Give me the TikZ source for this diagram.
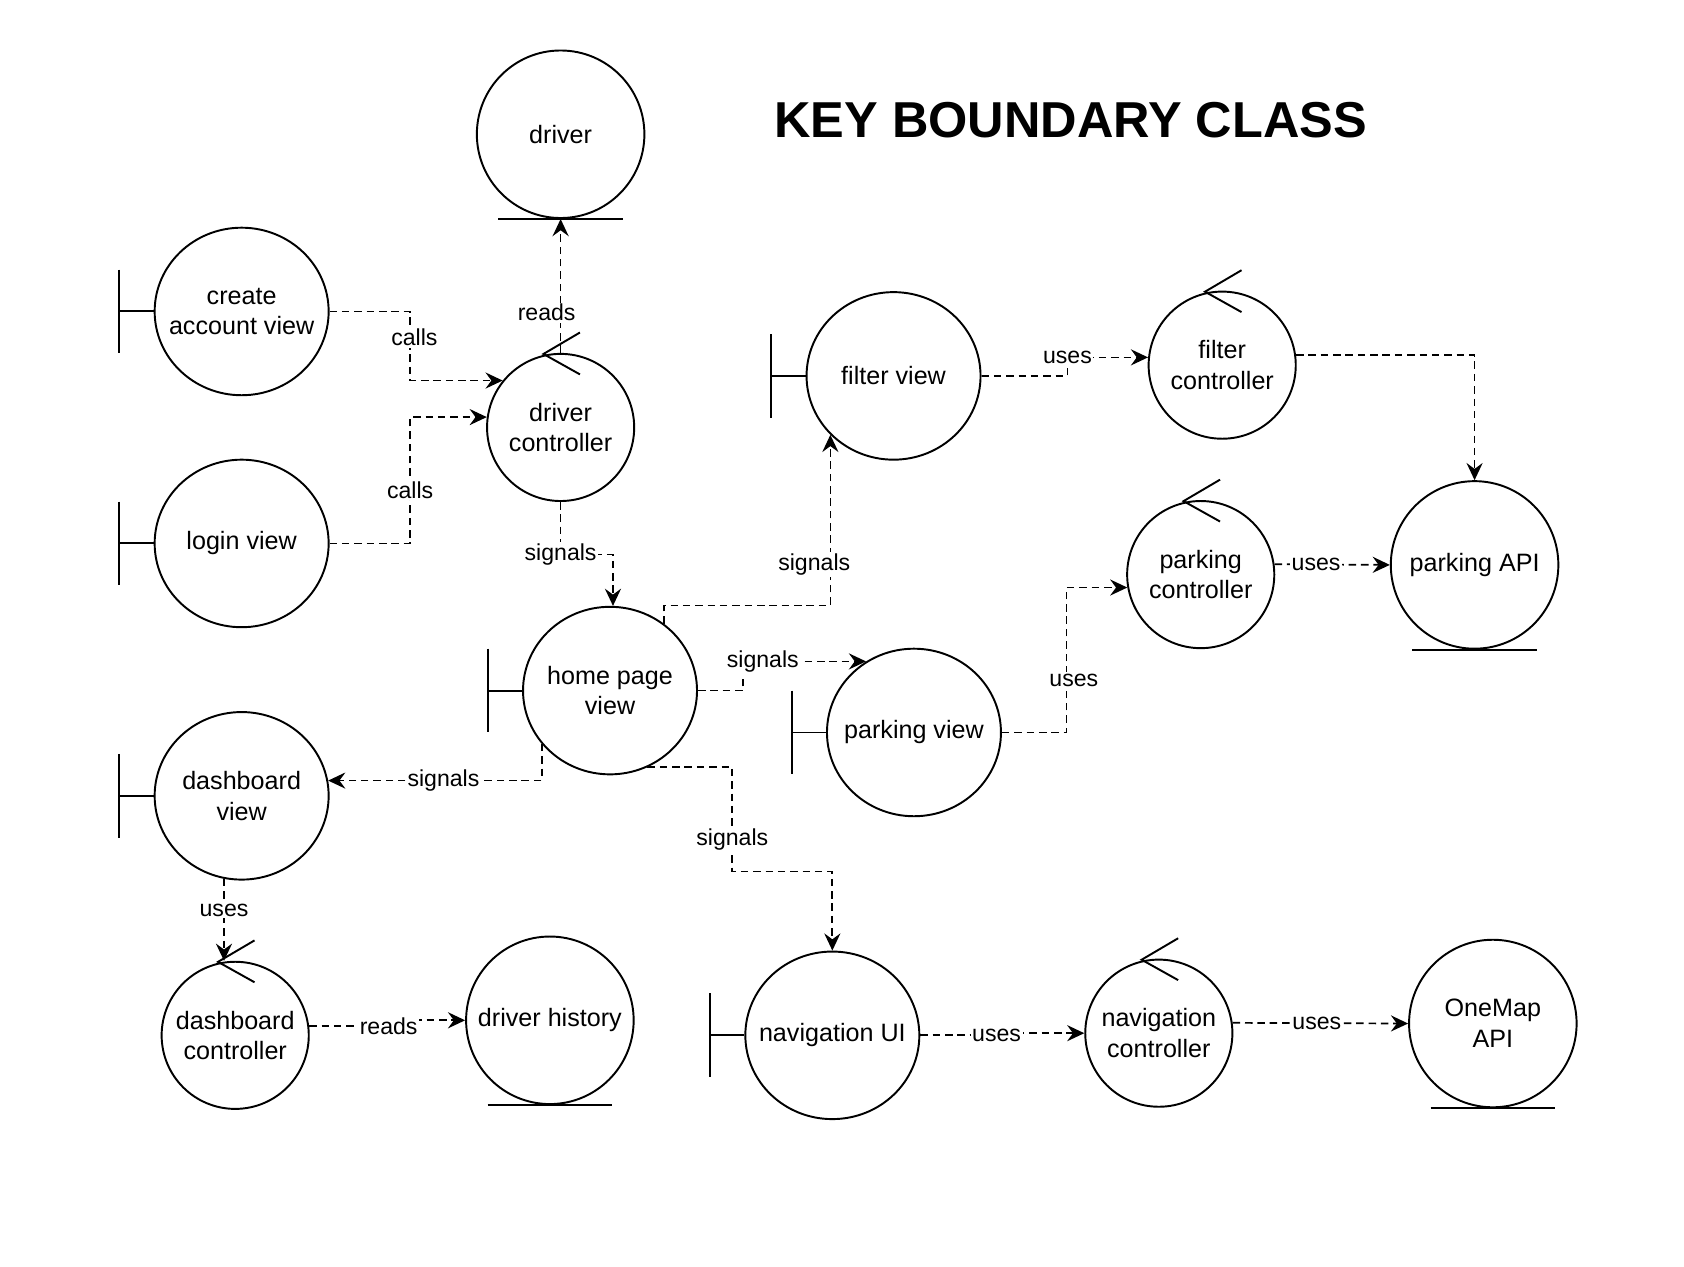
\documentclass[tikz,border=0pt]{standalone}
\usepackage{fontspec}
\setmainfont{Liberation Sans}
\usetikzlibrary{shapes.geometric,arrows.meta,calc}

\newcommand\bndT[1]{%
  \draw[sym] ($(#1.west)+(-32,-39)$) -- ($(#1.west)+(-32,39)$);
  \draw[sym] ($(#1.west)+(-32,0)$) -- (#1.west);}
\newcommand\entU[1]{%
  \draw[sym] ($(#1.south)+(-58,0)$) -- ($(#1.south)+(58,0)$);}
\newcommand\ctlA[1]{%
  \draw[sym] ($(#1.north)+(18,-19)$) -- ($(#1.north)+(-16,1)$) -- ($(#1.north)+(18,20)$);}

\begin{document}
\begin{tikzpicture}[x=1pt,y=-1pt,
  every node/.style={font=\fontsize{23.4}{28.5}\selectfont},
  sym/.style={line width=1.8pt},
  bnd/.style={draw,ellipse,line width=1.8pt,minimum width=162pt,minimum height=156pt,inner sep=0pt},
  ent/.style={draw,ellipse,line width=1.8pt,minimum width=156pt,minimum height=156pt,inner sep=0pt},
  ctl/.style={draw,ellipse,line width=1.8pt,minimum width=137pt,minimum height=137pt,inner sep=0pt},
  txt/.style={align=center,inner sep=0pt},
  lbl/.style={fill=white,inner sep=1.5pt,font=\fontsize{21.5}{26}\selectfont},
  con/.style={line width=1.6pt,dash pattern=on 7pt off 4.5pt,-{Stealth[length=16pt,width=15pt,inset=5.5pt]}}]

\fill[white] (0,0) rectangle (1568,1179);
\path[use as bounding box] (0,0) rectangle (1568,1179);

\node[font=\bfseries\fontsize{47}{56}\selectfont] (title) at (997,112) {KEY BOUNDARY CLASS};

% nodes
\node[ent, label={[txt]center:driver}] (drv) at (522,125) {};
\node[bnd, label={[txt]center:{create\\account view}}] (cav) at (225,290) {};
\node[bnd, label={[txt]center:login view}] (lv) at (225,506) {};
\node[ctl, label={[txt]center:{driver\\controller}}] (dc) at (522,398) {};
\node[bnd, label={[txt]center:filter view}] (fv) at (832,350) {};
\node[ctl, label={[txt]center:{filter\\controller}}] (fc) at (1138,340) {};
\node[ctl, label={[txt]center:{parking\\controller}}] (pc) at (1118,535) {};
\node[ent, label={[txt]center:parking API}] (pa) at (1373,526) {};
\node[bnd, label={[txt]center:{home page\\view}}] (hp) at (568,643) {};
\node[bnd, label={[txt]center:parking view}] (pv) at (851,682) {};
\node[bnd, label={[txt]center:{dashboard\\view}}] (dv) at (225,741) {};
\node[ctl, label={[txt]center:{dashboard\\controller}}] (dbc) at (219,964) {};
\node[ent, label={[txt]center:driver history}] (dh) at (512,950) {};
\node[bnd, label={[txt]center:navigation UI}] (nav) at (775,964) {};
\node[ctl, label={[txt]center:{navigation\\controller}}] (nc) at (1079,962) {};
\node[ent, label={[txt]center:{OneMap\\API}}] (om) at (1390,953) {};

% symbol decorations
\bndT{cav}\bndT{lv}\bndT{fv}\bndT{hp}\bndT{pv}\bndT{dv}\bndT{nav}
\entU{drv}\entU{pa}\entU{dh}\entU{om}
\ctlA{dc}\ctlA{fc}\ctlA{pc}\ctlA{dbc}\ctlA{nc}

% connectors
\draw[con] (cav.east) -- ++(75,0) |- node[lbl,pos=0.19,xshift=4]{calls} (dc.141);
\draw[con] (lv.east) -- ++(75,0) |- node[lbl,pos=0.21]{calls} (dc.172);
\draw[con] (dc.north) -- node[lbl,pos=0.3,xshift=-13]{reads} (drv.south);
\draw[con] (dc.south) -- ++(0,49) node[lbl]{signals} -| (hp.88);
\draw[con] (hp.51) -- ++(0,-17) -| node[lbl,pos=0.62,xshift=-15]{signals} (fv.223);
\draw[con] (hp.east) -- ++(42,0) |- node[lbl,pos=0.58]{signals} (pv.124);
\draw[con] (hp.218) |- node[lbl,pos=0.73]{signals} (dv.10);
\draw[con] (hp.296) -- ++(79,0) -- node[lbl,pos=0.69]{signals} ++(0,97) -| (nav.north);
\draw[con] (fv.east) -- ++(80,0) |- node[lbl,pos=0.5]{uses} (fc.174);
\draw[con] (fc.8) -| (pa.north);
\draw[con] (pv.east) -- ++(60,0) |- node[lbl,pos=0.18,xshift=7]{uses} (pc.190);
\draw[con] (pc.8) -- node[lbl,pos=0.36]{uses} (pa.west);
\draw[con] (dv.258) -- node[lbl,pos=0.38]{uses} (dv.258 |- dbc.north);
\draw[con] (dbc.7) -- ++(74,0) node[lbl]{reads} |- (dh.west);
\draw[con] (nav.east) -- ++(71,0) node[lbl]{uses} |- (nc.west);
\draw[con] (nc.8) -- node[lbl,pos=0.48]{uses} (om.west);

\end{tikzpicture}
\end{document}
